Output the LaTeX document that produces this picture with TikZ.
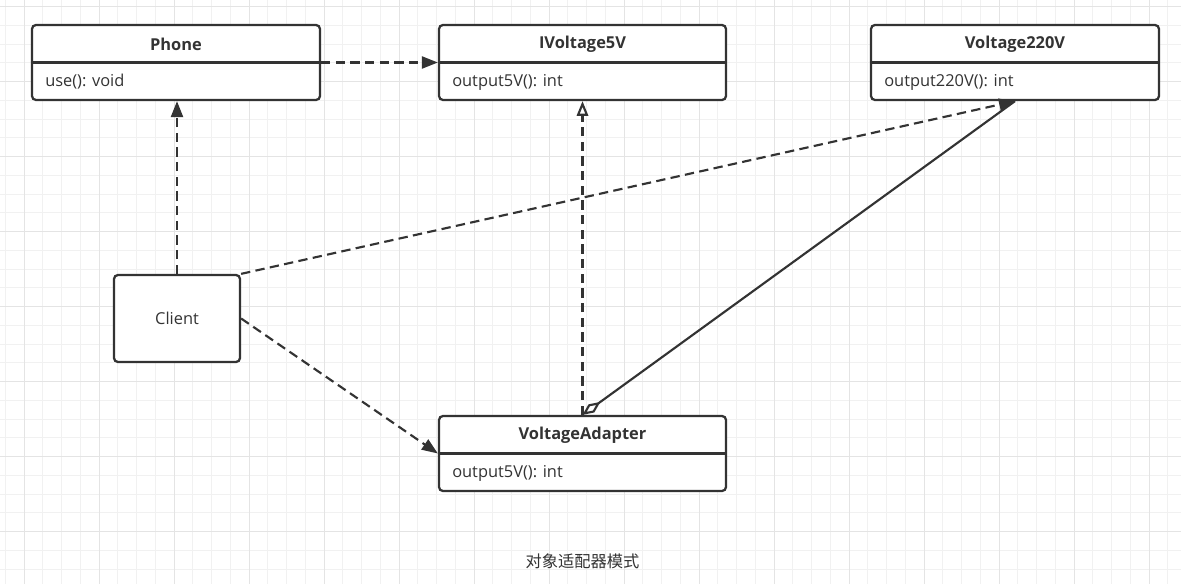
\documentclass[tikz,border=0pt]{standalone}
\usepackage{fontspec}
\setmainfont{Open Sans}
\newfontfamily\cjk{Noto Sans CJK SC}
\usetikzlibrary{arrows.meta}
\definecolor{ink}{HTML}{333333}
\definecolor{gridminor}{HTML}{F1F1F1}
\definecolor{gridmajor}{HTML}{E4E4E4}
\begin{document}
\begin{tikzpicture}[x=0.75pt,y=-0.75pt,
  classbox/.style={draw=ink, line width=1.7pt, rounded corners=3pt, fill=white, inner sep=0pt, minimum height=56.25pt},
  clientbox/.style={draw=ink, line width=1.7pt, rounded corners=3pt, fill=white, inner sep=0pt, minimum width=94.5pt, minimum height=65.25pt, font=\fontsize{12.3pt}{14pt}\selectfont, text=ink},
  divider/.style={draw=ink, line width=1.7pt},
  headtext/.style={font=\fontsize{12.3pt}{14pt}\selectfont\bfseries, text=ink, inner sep=0pt},
  bodytext/.style={font=\fontsize{12.3pt}{14pt}\selectfont, text=ink, inner sep=0pt, anchor=west},
  dep/.style={draw=ink, line width=1.6pt, dash pattern=on 7pt off 4pt, -{Triangle[length=12pt, width=9pt]}},
  real/.style={draw=ink, line width=1.6pt, dash pattern=on 7pt off 4pt, -{Triangle[open, fill=white, length=11pt, width=8.5pt]}},
  agg/.style={draw=ink, line width=1.6pt, {Diamond[open, fill=white, length=16.5pt, width=7.5pt]}-},
  minorline/.style={draw=gridminor, line width=0.75pt},
  majorline/.style={draw=gridmajor, line width=0.75pt}
]
\useasboundingbox (0,0) rectangle (1181,584);
\fill[white] (0,0) rectangle (1181,584);
% grid
\foreach \i in {0,...,62} {
  \draw[minorline] ({5.25+18.75*\i},0) -- ({5.25+18.75*\i},584);
}
\foreach \j in {0,...,31} {
  \draw[minorline] (0,{6.7+18.75*\j}) -- (1181,{6.7+18.75*\j});
}
\foreach \i in {0,...,15} {
  \draw[majorline] ({24+75*\i},0) -- ({24+75*\i},584);
}
\foreach \j in {0,...,7} {
  \draw[majorline] (0,{6.7+75*\j}) -- (1181,{6.7+75*\j});
}

% classes
\node[classbox, minimum width=216pt] (phone) at (176,62.5) {};
\draw[divider] (phone.west) -- (phone.east);
\node[headtext] (phoneT) at (176,44.5) {Phone};
\node[bodytext] (phoneB) at (45,82) {use(): void};

\node[classbox, minimum width=215.25pt] (ivolt) at (582.5,62.5) {};
\draw[divider] (ivolt.west) -- (ivolt.east);
\node[headtext] (ivoltT) at (582.5,44.5) {IVoltage5V};
\node[bodytext] (ivoltB) at (452,82) {output5V(): int};

\node[classbox, minimum width=216pt] (vhigh) at (1015,62.5) {};
\draw[divider] (vhigh.west) -- (vhigh.east);
\node[headtext] (vhighT) at (1015,44.5) {Voltage220V};
\node[bodytext] (vhighB) at (884,82) {output220V(): int};

\node[classbox, minimum width=215.25pt] (adapter) at (582.5,453.5) {};
\draw[divider] (adapter.west) -- (adapter.east);
\node[headtext] (adapterT) at (582.5,435.5) {VoltageAdapter};
\node[bodytext] (adapterB) at (452,473) {output5V(): int};

\node[clientbox] (client) at (177,318.5) {Client};

% connectors
\draw[dep] (phone.east) -- (ivolt.west);
\draw[dep] (client.north) -- (client.north |- phone.south);
\draw[dep] (client.north east) -- (vhigh.south);
\draw[dep] (client.east) -- (adapter.west);
\draw[real] (adapter.north) -- (ivolt.south);
\draw[agg] (adapter.north) -- (vhigh.south);

\node[font=\fontsize{12.2pt}{14pt}\selectfont, text=ink] (caption) at (582.5,561) {\cjk 对象适配器模式};
\end{tikzpicture}
\end{document}
